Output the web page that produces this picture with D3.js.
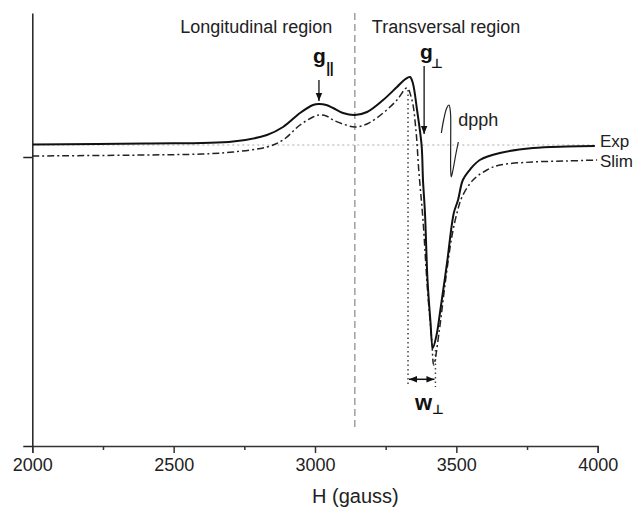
<!DOCTYPE html>
<html><head><meta charset="utf-8">
<script src="https://cdn.jsdelivr.net/npm/d3@7"></script>
<style>
html,body{margin:0;padding:0;background:#fff;}
svg{display:block;font-family:"Liberation Sans",Arial,Helvetica,sans-serif;}
</style></head>
<body>
<svg id="chart" width="637" height="507"></svg>
<script>
// ---- data (H in gauss, intensity in arbitrary units) ----
const expH   = [2000,2400,2710,2830,2887,2947,2993,3014,3040,3064,3099,3141,3184,3241,3290,3320,3336,3346,3361,3377,3382,3389,3398,3408,3417,3430,3442,3467,3491,3506,3523,3550,3583,3654,3771,3890,3990];
const expVal = [0.005,0.015,0.035,0.10,0.18,0.32,0.40,0.41,0.40,0.37,0.32,0.30,0.33,0.45,0.58,0.66,0.68,0.62,0.35,0.0,-0.35,-0.68,-1.35,-1.75,-2.03,-1.90,-1.68,-1.18,-0.68,-0.55,-0.35,-0.24,-0.15,-0.08,-0.03,-0.015,-0.01];
const slimH   = [2000,2400,2600,2710,2830,2887,2947,2993,3014,3040,3064,3099,3141,3184,3241,3290,3325,3343,3357,3367,3382,3398,3413,3420,3440,3462,3485,3505,3520,3559,3608,3654,3771,3890,3998];
const slimVal = [-0.11,-0.10,-0.09,-0.07,-0.02,0.05,0.20,0.28,0.30,0.29,0.25,0.21,0.18,0.21,0.32,0.45,0.57,0.45,0.15,-0.25,-0.75,-1.45,-1.95,-2.2,-1.85,-1.35,-0.9,-0.65,-0.52,-0.35,-0.25,-0.20,-0.17,-0.16,-0.15];
const dpphH   = [3447,3455,3466,3474,3479,3480,3480,3482,3488,3499,3507];
const dpphVal = [0.12,0.25,0.37,0.40,0.33,0.05,-0.25,-0.32,-0.25,-0.08,0.03];
const majorTicks = [2000,2500,3000,3500,4000];
const minorTicks = [2250,2750,3250,3750];
const yTicks = [-3.01,-0.12];
const seriesNames = ["Exp","Slim"];
const regionLabels = ["Longitudinal region","Transversal region"];
const axisTitle = "H (gauss)";
const boundaryH = 3141;         // longitudinal / transversal divide
const gParH = 3014, gPerpH = 3386; // g-parallel, g-perpendicular
const wStartH = 3329, wEndH = 3426; // linewidth W-perp

// ---- scales ----
const x = d3.scaleLinear().domain([2000,4000]).range([32.3,597.7]);
const y = d3.scaleLinear().domain([-3.01,1.32]).range([446,13]);

const svg = d3.select("#chart");
const defs = svg.append("defs");
defs.append("marker").attr("id","ah").attr("viewBox","0 0 10 10")
  .attr("refX",10).attr("refY",5).attr("markerWidth",8).attr("markerHeight",8)
  .attr("markerUnits","userSpaceOnUse").attr("orient","auto-start-reverse")
  .append("path").attr("d","M0,1 L10,5 L0,9 Z").attr("fill","#111");

// reference lines
svg.append("line").attr("x1",x(2000)).attr("x2",x(3995)).attr("y1",y(0)).attr("y2",y(0))
  .attr("stroke","#aaa").attr("stroke-width",1).attr("stroke-dasharray","2,3");
svg.append("line").attr("x1",x(boundaryH)).attr("x2",x(boundaryH)).attr("y1",y(1.32)).attr("y2",y(-2.85))
  .attr("stroke","#888").attr("stroke-width",1.2).attr("stroke-dasharray","7,4");
svg.append("line").attr("x1",x(wStartH)).attr("x2",x(wStartH)).attr("y1",y(0.55)).attr("y2",y(-2.42))
  .attr("stroke","#444").attr("stroke-width",1.5).attr("stroke-dasharray","1.5,3");
svg.append("line").attr("x1",x(wEndH)).attr("x2",x(wEndH)).attr("y1",y(-2.05)).attr("y2",y(-2.42))
  .attr("stroke","#444").attr("stroke-width",1.5).attr("stroke-dasharray","1.5,3");

// curves
const line = d3.line().x(d=>x(d[0])).y(d=>y(d[1])).curve(d3.curveCatmullRom.alpha(0.5));
svg.append("path").datum(slimH.map((h,i)=>[h,slimVal[i]])).attr("d",line)
  .attr("fill","none").attr("stroke","#222").attr("stroke-width",1.5).attr("stroke-dasharray","7,3,2,3");
svg.append("path").datum(expH.map((h,i)=>[h,expVal[i]])).attr("d",line)
  .attr("fill","none").attr("stroke","#111").attr("stroke-width",2);
svg.append("path").datum(dpphH.map((h,i)=>[h,dpphVal[i]])).attr("d",line)
  .attr("fill","none").attr("stroke","#222").attr("stroke-width",1.2);

// axes
const xAxis = svg.append("g").attr("transform",`translate(0,${y(-3.01)})`)
  .call(d3.axisBottom(x).tickValues(majorTicks).tickSize(7).tickPadding(5).tickFormat(d3.format("d")));
xAxis.selectAll("text").attr("font-size",18).attr("fill","#222").attr("font-family","Liberation Sans, Arial, sans-serif");
xAxis.select(".domain").attr("stroke","#333").attr("stroke-width",1.5);
xAxis.selectAll(".tick line").attr("stroke","#333").attr("stroke-width",1.5);
const xMinor = svg.append("g").attr("transform",`translate(0,${y(-3.01)})`)
  .call(d3.axisBottom(x).tickValues(minorTicks).tickSize(4).tickFormat(""));
xMinor.select(".domain").remove();
xMinor.selectAll(".tick line").attr("stroke","#333").attr("stroke-width",1.5);

const yAxis = svg.append("g").attr("transform",`translate(${x(2000)},0)`)
  .call(d3.axisLeft(y).tickValues(yTicks).tickSize(9).tickSizeOuter(0).tickFormat(""));
yAxis.select(".domain").attr("stroke","#222").attr("stroke-width",1.5);
yAxis.selectAll(".tick line").attr("stroke","#222").attr("stroke-width",1.5);

// axis title
svg.append("text").attr("x",312).attr("y",503).attr("font-size",20).attr("fill","#222").text(axisTitle);

// region labels
svg.append("text").attr("x",x(2523)).attr("y",y(1.12)).attr("font-size",18).attr("fill","#222").text(regionLabels[0]);
svg.append("text").attr("x",x(3201)).attr("y",y(1.12)).attr("font-size",18).attr("fill","#222").text(regionLabels[1]);

// series labels
svg.append("text").attr("x",x(4008)).attr("y",y(-0.017)).attr("font-size",17).attr("fill","#222").text(seriesNames[0]);
svg.append("text").attr("x",x(4008)).attr("y",y(-0.217)).attr("font-size",17).attr("fill","#222").text(seriesNames[1]);

// dpph label
svg.append("text").attr("x",x(3507)).attr("y",y(0.19)).attr("font-size",18).attr("fill","#222").text("dpph");

// g-parallel
svg.append("text").attr("x",x(2993)).attr("y",62.5).attr("font-size",21).attr("font-weight","bold").attr("fill","#111").text("g");
svg.append("text").attr("x",x(3040)).attr("y",73).attr("font-size",14).attr("font-weight","bold").attr("fill","#111").attr("letter-spacing",-0.5).text("||");
svg.append("line").attr("x1",x(gParH)).attr("x2",x(gParH)).attr("y1",y(0.65)).attr("y2",y(0.44))
  .attr("stroke","#111").attr("stroke-width",1.3).attr("marker-end","url(#ah)");

// g-perp
svg.append("text").attr("x",x(3371)).attr("y",59).attr("font-size",21).attr("font-weight","bold").attr("fill","#111").text("g");
svg.append("text").attr("x",x(3410)).attr("y",68).attr("font-size",13).attr("font-weight","bold").attr("fill","#111")
  .attr("font-family","DejaVu Sans, sans-serif").text("\u22A5");
svg.append("line").attr("x1",x(gPerpH)).attr("x2",x(gPerpH)).attr("y1",y(0.79)).attr("y2",y(0.11))
  .attr("stroke","#111").attr("stroke-width",1.3).attr("marker-end","url(#ah)");

// W-perp
svg.append("line").attr("x1",x(wStartH)+1).attr("x2",x(wEndH)-1).attr("y1",y(-2.343)).attr("y2",y(-2.343))
  .attr("stroke","#111").attr("stroke-width",1.5).attr("marker-start","url(#ah)").attr("marker-end","url(#ah)");
svg.append("text").attr("x",415).attr("y",410).attr("font-size",22).attr("font-weight","bold").attr("fill","#111").text("w");
svg.append("text").attr("x",432).attr("y",414).attr("font-size",13).attr("font-weight","bold").attr("fill","#111")
  .attr("font-family","DejaVu Sans, sans-serif").text("\u22A5");
</script>
</body></html>
